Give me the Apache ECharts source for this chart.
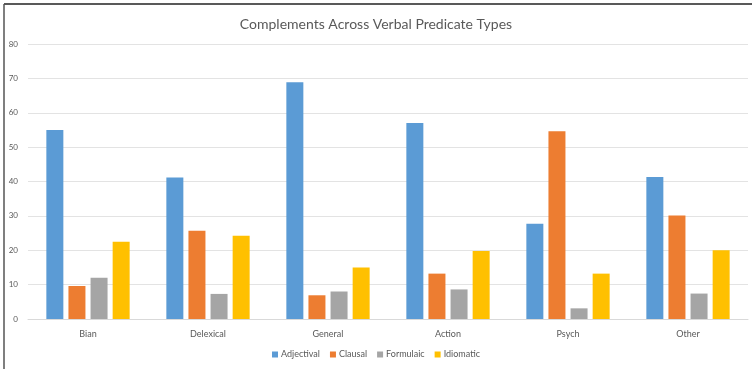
<!DOCTYPE html>
<html>
<head>
<meta charset="utf-8">
<script src="https://cdn.jsdelivr.net/npm/echarts@6/dist/echarts.min.js"></script>
<style>
  html, body { margin: 0; padding: 0; background: #fff; }
  #chart { width: 752px; height: 369px; }
</style>
</head>
<body>
<div id="chart"></div>
<script>
// Predicate types along the x axis
const categories = ['Bian', 'Delexical', 'General', 'Action', 'Psych', 'Other'];

// Complement counts per predicate type
const adjectival = [55.0, 41.2, 68.9, 57.0, 27.7, 41.3];
const clausal    = [9.6, 25.7, 6.9, 13.2, 54.6, 30.1];
const formulaic  = [12.0, 7.3, 8.0, 8.6, 3.1, 7.4];
const idiomatic  = [22.5, 24.2, 15.0, 19.8, 13.2, 20.0];

const seriesNames = ['Adjectival', 'Clausal', 'Formulaic', 'Idiomatic'];
const seriesData = [adjectival, clausal, formulaic, idiomatic];
const seriesColors = ['#5B9BD5', '#ED7D31', '#A5A5A5', '#FFC000'];

// y axis ticks
const yMin = 0, yMax = 80, yStep = 10;

const chart = echarts.init(document.getElementById('chart'), null, { renderer: 'canvas' });

const textColor = '#595959';
const fontFamily = 'Lato, "Open Sans", sans-serif';

chart.setOption({
  animation: false,
  title: {
    text: 'Complements Across Verbal Predicate Types',
    left: 'center',
    top: 12,
    textStyle: { color: textColor, fontSize: 14, fontWeight: 'normal', fontFamily: fontFamily }
  },
  legend: {
    data: seriesNames,
    bottom: 5,
    left: 'center',
    itemWidth: 6,
    itemHeight: 6,
    itemGap: 10,
    icon: 'rect',
    textStyle: { color: textColor, fontSize: 9, fontFamily: fontFamily, padding: [0, 0, 0, -2] }
  },
  grid: { left: 28, right: 4, top: 44, bottom: 50 },
  xAxis: {
    type: 'category',
    data: categories,
    axisLine: { lineStyle: { color: '#D9D9D9' } },
    axisTick: { show: false },
    axisLabel: { color: textColor, fontSize: 9, fontFamily: fontFamily, margin: 11 }
  },
  yAxis: {
    type: 'value',
    min: yMin,
    max: yMax,
    interval: yStep,
    axisLine: { show: false },
    axisTick: { show: false },
    axisLabel: { color: textColor, fontSize: 8, fontFamily: fontFamily, margin: 10 },
    splitLine: { lineStyle: { color: '#E3E3E3', width: 1 } }
  },
  series: seriesNames.map((name, i) => ({
    name: name,
    type: 'bar',
    data: seriesData[i],
    barWidth: 17,
    barGap: '30%',
    itemStyle: { color: seriesColors[i] }
  })),
  graphic: [
    { type: 'line', shape: { x1: 4, y1: 4, x2: 752, y2: 4 }, style: { stroke: '#222', lineWidth: 1.5 } },
    { type: 'line', shape: { x1: 4, y1: 4, x2: 4, y2: 369 }, style: { stroke: '#555', lineWidth: 1.5 } }
  ]
});
</script>
</body>
</html>
